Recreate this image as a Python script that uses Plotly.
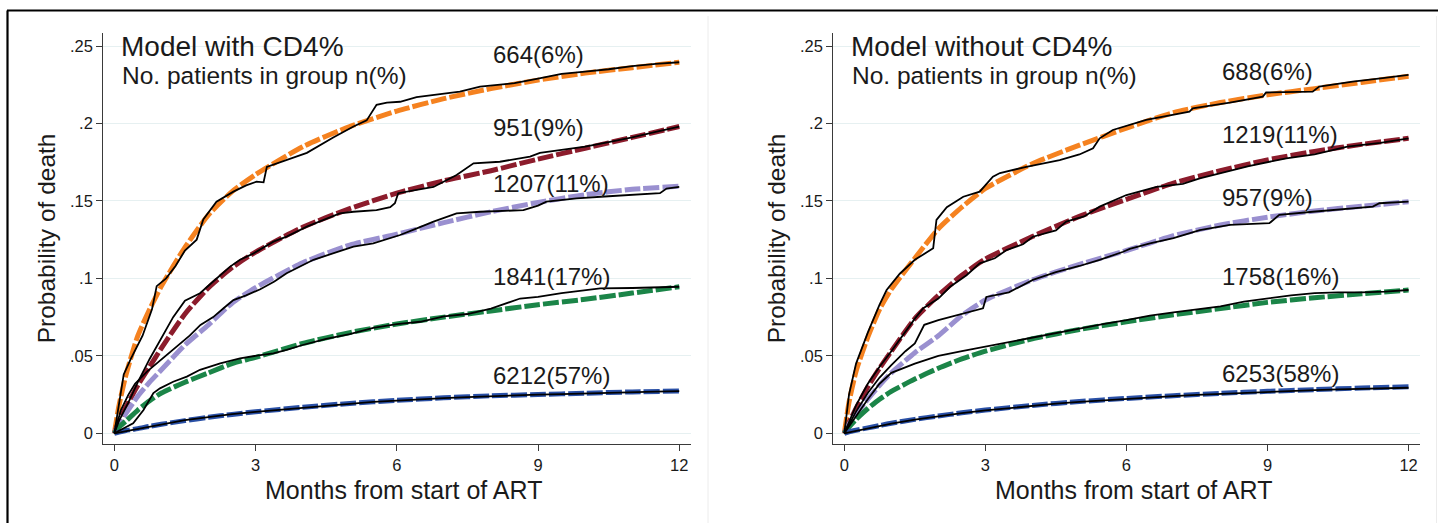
import plotly.graph_objects as go

# ---------------- data ----------------
t_pred = [0, 0.1, 0.25, 0.5, 0.75, 1, 1.5, 2, 2.5, 3, 4, 5, 6, 7, 8, 9, 10, 11, 12]

# Left panel: model with CD4%  (predicted curves)
L_orange_pred = [0, 0.018, 0.038, 0.063, 0.080, 0.095, 0.120, 0.141, 0.156, 0.167, 0.185, 0.198, 0.208, 0.216, 0.2225, 0.228, 0.2325, 0.236, 0.2395]
L_red_pred    = [0, 0.008, 0.017, 0.031, 0.043, 0.055, 0.077, 0.094, 0.107, 0.117, 0.133, 0.145, 0.155, 0.163, 0.1695, 0.177, 0.184, 0.191, 0.198]
L_lav_pred    = [0, 0.006, 0.013, 0.024, 0.033, 0.041, 0.057, 0.070, 0.084, 0.094, 0.110, 0.1215, 0.1285, 0.136, 0.143, 0.149, 0.154, 0.1575, 0.1595]
L_green_pred  = [0, 0.004, 0.008, 0.015, 0.021, 0.026, 0.033, 0.039, 0.045, 0.049, 0.058, 0.065, 0.0705, 0.075, 0.079, 0.083, 0.0865, 0.0905, 0.0946]
L_blue_pred   = [0, 0.0008, 0.0018, 0.003, 0.0045, 0.0058, 0.0082, 0.0103, 0.0122, 0.0139, 0.0168, 0.0193, 0.0213, 0.0229, 0.0242, 0.0250, 0.0259, 0.0267, 0.0273]

# Right panel: model without CD4%  (predicted curves)
R_orange_pred = [0, 0.020, 0.040, 0.062, 0.080, 0.093, 0.113, 0.132, 0.146, 0.158, 0.174, 0.186, 0.197, 0.207, 0.2135, 0.2185, 0.2225, 0.2265, 0.2305]
R_red_pred    = [0, 0.007, 0.016, 0.030, 0.042, 0.053, 0.074, 0.089, 0.102, 0.1125, 0.127, 0.140, 0.151, 0.1615, 0.1695, 0.1765, 0.182, 0.1865, 0.1904]
R_lav_pred    = [0, 0.006, 0.012, 0.022, 0.031, 0.039, 0.052, 0.063, 0.076, 0.086, 0.099, 0.109, 0.118, 0.1275, 0.1345, 0.1395, 0.1435, 0.1465, 0.1495]
R_green_pred  = [0, 0.004, 0.009, 0.016, 0.022, 0.027, 0.035, 0.042, 0.048, 0.053, 0.061, 0.067, 0.072, 0.0765, 0.0805, 0.0845, 0.0875, 0.090, 0.0925]
R_blue_pred   = [0, 0.001, 0.002, 0.0035, 0.005, 0.0065, 0.009, 0.0112, 0.0132, 0.015, 0.0180, 0.0205, 0.0225, 0.0243, 0.0258, 0.0271, 0.0282, 0.0292, 0.0300]

# Observed (Kaplan-Meier, black) curves: time and value pairs
L_orange_obs_t = [0, 0.08, 0.15, 0.2, 0.35, 0.45, 0.6, 0.8, 0.9, 1.1, 1.3, 1.5, 1.75, 1.89, 2.17, 2.53, 2.8, 3.02, 3.17, 3.24, 3.6, 4.09, 4.65, 5.08, 5.36, 5.57, 5.79, 6.07, 6.42, 7.34, 7.77, 8.5, 9.0, 9.5, 10, 10.5, 11, 11.5, 12]
L_orange_obs_v = [0, 0.015, 0.030, 0.038, 0.048, 0.054, 0.063, 0.080, 0.095, 0.100, 0.108, 0.118, 0.125, 0.138, 0.1495, 0.156, 0.160, 0.1624, 0.162, 0.172, 0.176, 0.181, 0.191, 0.198, 0.202, 0.212, 0.2135, 0.214, 0.217, 0.2205, 0.2238, 0.226, 0.229, 0.232, 0.2335, 0.235, 0.237, 0.2385, 0.2395]
L_red_obs_t = [0, 0.1, 0.3, 0.5, 0.75, 1, 1.25, 1.5, 1.82, 2.1, 2.46, 2.67, 2.95, 3.38, 3.66, 4.09, 4.65, 4.79, 5.08, 5.57, 5.86, 5.96, 6.03, 6.78, 7.27, 7.63, 8.19, 8.83, 9.04, 9.5, 10, 10.5, 11, 11.5, 12]
L_red_obs_v = [0, 0.008, 0.020, 0.033, 0.048, 0.062, 0.075, 0.0856, 0.0904, 0.098, 0.1076, 0.112, 0.116, 0.1237, 0.127, 0.1334, 0.140, 0.142, 0.143, 0.144, 0.146, 0.1485, 0.155, 0.159, 0.1667, 0.1743, 0.1753, 0.1786, 0.181, 0.183, 0.185, 0.188, 0.191, 0.1945, 0.198]
L_lav_obs_t = [0, 0.14, 0.3, 0.44, 0.7, 0.94, 1.1, 1.33, 1.6, 1.83, 2.1, 2.32, 2.53, 2.8, 3.1, 3.4, 3.66, 4.23, 4.65, 5.08, 5.5, 6.07, 6.4, 6.78, 7.27, 7.77, 8.69, 9.0, 9.18, 9.82, 10.5, 11.02, 11.59, 11.73, 12]
L_lav_obs_v = [0, 0.015, 0.025, 0.032, 0.040, 0.046, 0.050, 0.056, 0.063, 0.070, 0.075, 0.0807, 0.086, 0.089, 0.093, 0.098, 0.1033, 0.112, 0.116, 0.1205, 0.1226, 0.128, 0.132, 0.1366, 0.142, 0.143, 0.144, 0.147, 0.1495, 0.1517, 0.153, 0.1538, 0.155, 0.158, 0.159]
L_green_obs_t = [0, 0.2, 0.4, 0.62, 0.83, 0.97, 1.25, 1.54, 1.82, 2.25, 2.67, 3.1, 3.38, 3.66, 4.0, 4.5, 5.0, 5.5, 6.0, 6.5, 7.0, 7.5, 8.0, 8.62, 9.0, 9.5, 10.32, 11, 11.5, 12]
L_green_obs_v = [0, 0.003, 0.0065, 0.015, 0.026, 0.029, 0.0333, 0.0366, 0.041, 0.0452, 0.0484, 0.0505, 0.0516, 0.0538, 0.057, 0.061, 0.064, 0.068, 0.0705, 0.072, 0.0755, 0.077, 0.0805, 0.087, 0.088, 0.0905, 0.0936, 0.0938, 0.094, 0.0946]
L_blue_obs_t = [0, 0.5, 1, 1.5, 2, 2.5, 3, 3.5, 4, 4.5, 5, 5.5, 6, 6.5, 7, 7.5, 8, 8.5, 9, 9.5, 10, 10.5, 11, 11.5, 12]
L_blue_obs_v = [0, 0.0028, 0.0058, 0.0085, 0.0105, 0.0124, 0.0138, 0.0152, 0.0165, 0.0178, 0.019, 0.0203, 0.0212, 0.0218, 0.0227, 0.0234, 0.024, 0.0245, 0.025, 0.0253, 0.0258, 0.0262, 0.0266, 0.0269, 0.0272]

R_orange_obs_t = [0, 0.1, 0.25, 0.5, 0.75, 0.9, 1.18, 1.5, 1.89, 1.96, 2.18, 2.53, 2.88, 3.16, 3.31, 3.87, 4.58, 5.0, 5.29, 5.43, 5.71, 6.42, 7.34, 7.41, 8.2, 8.9, 8.97, 9.96, 10.1, 10.81, 11.45, 12]
R_orange_obs_v = [0, 0.025, 0.045, 0.065, 0.083, 0.0925, 0.103, 0.112, 0.1194, 0.1377, 0.146, 0.1527, 0.156, 0.1657, 0.168, 0.172, 0.1764, 0.180, 0.184, 0.1904, 0.1958, 0.2023, 0.2076, 0.2098, 0.2135, 0.2173, 0.220, 0.2205, 0.2238, 0.227, 0.2292, 0.2313]
R_red_obs_t = [0, 0.25, 0.5, 0.75, 1, 1.5, 1.68, 2, 2.25, 2.6, 2.88, 3.2, 3.45, 3.8, 4.01, 4.5, 4.72, 5.1, 5.43, 6.0, 6.64, 7.2, 7.56, 8.0, 8.6, 9.4, 10, 10.7, 11.4, 12]
R_red_obs_v = [0, 0.018, 0.032, 0.043, 0.053, 0.074, 0.0807, 0.087, 0.0946, 0.102, 0.1097, 0.113, 0.1183, 0.122, 0.1269, 0.131, 0.1366, 0.140, 0.1463, 0.1538, 0.159, 0.161, 0.1646, 0.168, 0.1725, 0.1775, 0.180, 0.185, 0.1875, 0.1904]
R_lav_obs_t = [0, 0.25, 0.5, 0.75, 1, 1.3, 1.5, 1.7, 2.0, 2.5, 2.95, 3.02, 3.5, 4.01, 4.5, 5.0, 5.43, 5.93, 6.07, 6.5, 7.0, 7.56, 8.2, 9.04, 9.25, 9.96, 10.5, 11.24, 11.38, 12]
R_lav_obs_v = [0, 0.014, 0.026, 0.036, 0.044, 0.053, 0.058, 0.070, 0.073, 0.077, 0.0807, 0.088, 0.091, 0.099, 0.104, 0.108, 0.1119, 0.1172, 0.119, 0.1226, 0.126, 0.1312, 0.1345, 0.1356, 0.141, 0.143, 0.1445, 0.1463, 0.1485, 0.1495]
R_green_obs_t = [0, 0.25, 0.5, 0.75, 1, 1.5, 2, 2.5, 3, 3.5, 4, 4.5, 5, 5.5, 6, 6.5, 7, 7.5, 8, 8.5, 9, 9.5, 10, 10.5, 11, 11.5, 12]
R_green_obs_v = [0, 0.011, 0.022, 0.032, 0.039, 0.045, 0.050, 0.053, 0.056, 0.059, 0.062, 0.065, 0.068, 0.0705, 0.073, 0.076, 0.078, 0.080, 0.082, 0.085, 0.087, 0.089, 0.0905, 0.091, 0.091, 0.0915, 0.0925]
R_blue_obs_t = [0, 0.5, 1, 1.5, 2, 2.5, 3, 3.5, 4, 4.5, 5, 5.5, 6, 6.5, 7, 7.5, 8, 8.5, 9, 9.5, 10, 10.5, 11, 11.5, 12]
R_blue_obs_v = [0, 0.0033, 0.0063, 0.0088, 0.011, 0.013, 0.0148, 0.0163, 0.0178, 0.0191, 0.0203, 0.0213, 0.0222, 0.0231, 0.024, 0.0248, 0.0255, 0.0262, 0.0268, 0.0274, 0.0279, 0.0284, 0.0288, 0.0291, 0.0294]

# Group labels
labels_L = ["664(6%)", "951(9%)", "1207(11%)", "1841(17%)", "6212(57%)"]
label_y_L = [0.2445, 0.1975, 0.161, 0.1015, 0.037]
labels_R = ["688(6%)", "1219(11%)", "957(9%)", "1758(16%)", "6253(58%)"]
label_y_R = [0.2334, 0.1926, 0.1519, 0.1011, 0.0389]
label_x = 8.0

x_ticks = [0, 3, 6, 9, 12]
y_ticks = [0, 0.05, 0.1, 0.15, 0.2, 0.25]
y_ticktext = ["0", ".05", ".1", ".15", ".2", ".25"]

titles = ["Model with CD4%", "Model without CD4%"]
subtitle = "No. patients in group n(%)"
x_title = "Months from start of ART"
y_title = "Probability of death"

# ---------------- styling ----------------
colors = ["#f58220", "#8c1c2c", "#9a90d0", "#1b8548", "#2a50a6"]
FONT = "Liberation Sans, Arial, sans-serif"
TXT = "#1a1a1a"
W, H = 1438, 523

fig = go.Figure()

panels = [
    ("x", "y", [L_orange_pred, L_red_pred, L_lav_pred, L_green_pred, L_blue_pred],
     [(L_orange_obs_t, L_orange_obs_v), (L_red_obs_t, L_red_obs_v), (L_lav_obs_t, L_lav_obs_v),
      (L_green_obs_t, L_green_obs_v), (L_blue_obs_t, L_blue_obs_v)], labels_L, label_y_L),
    ("x2", "y2", [R_orange_pred, R_red_pred, R_lav_pred, R_green_pred, R_blue_pred],
     [(R_orange_obs_t, R_orange_obs_v), (R_red_obs_t, R_red_obs_v), (R_lav_obs_t, R_lav_obs_v),
      (R_green_obs_t, R_green_obs_v), (R_blue_obs_t, R_blue_obs_v)], labels_R, label_y_R),
]

annotations = []
for pi, (xa, ya, preds, obs, labs, laby) in enumerate(panels):
    for c, p in zip(colors, preds):
        fig.add_trace(go.Scatter(x=t_pred, y=p, xaxis=xa, yaxis=ya, mode="lines",
                                 line=dict(color=c, width=5, dash="16px,3px", shape="spline", smoothing=0.6),
                                 showlegend=False, hoverinfo="skip"))
    for (tt, vv) in obs:
        fig.add_trace(go.Scatter(x=tt, y=vv, xaxis=xa, yaxis=ya, mode="lines",
                                 line=dict(color="black", width=1.8, shape="linear"),
                                 showlegend=False, hoverinfo="skip"))
    for txt, yy in zip(labs, laby):
        annotations.append(dict(x=label_x, y=yy, xref=xa, yref=ya, text=txt, showarrow=False,
                                xanchor="left", yanchor="middle",
                                font=dict(family=FONT, size=24, color=TXT)))

x_dom = [[103.3 / W, 690.7 / W], [833.3 / W, 1420 / W]]
y_dom = [1 - 444.3 / H, 1 - 33.3 / H]
title_x = [119 / W, 849 / W]
xtitle_cx = [403 / W, 1133 / W]

for i in range(2):
    annotations.append(dict(x=title_x[i], y=1 - 47 / H, xref="paper", yref="paper", text=titles[i],
                            showarrow=False, xanchor="left", yanchor="middle",
                            font=dict(family=FONT, size=28, color=TXT)))
    annotations.append(dict(x=title_x[i] + 1 / W, y=1 - 75 / H, xref="paper", yref="paper", text=subtitle,
                            showarrow=False, xanchor="left", yanchor="middle",
                            font=dict(family=FONT, size=24.5, color=TXT)))
    # axis titles
    annotations.append(dict(x=xtitle_cx[i], y=1 - 490 / H, xref="paper", yref="paper", text=x_title,
                            showarrow=False, xanchor="center", yanchor="middle", borderpad=0,
                            font=dict(family=FONT, size=25, color=TXT)))
    annotations.append(dict(x=(46.5 + 730 * i) / W, y=1 - 238.8 / H, xref="paper", yref="paper", text=y_title,
                            showarrow=False, xanchor="center", yanchor="middle", textangle=-90,
                            font=dict(family=FONT, size=24.5, color=TXT)))

axis_common = dict(showline=True, linecolor="#3a3a3a", linewidth=1.3, ticks="outside", ticklen=6,
                   tickcolor="#3a3a3a", tickwidth=1.3, zeroline=False, automargin=False,
                   tickfont=dict(family=FONT, size=16.5, color=TXT))

layout = dict(width=W, height=H, margin=dict(l=0, r=0, t=0, b=0),
              paper_bgcolor="white", plot_bgcolor="white", showlegend=False,
              annotations=annotations)

for i, (xk, yk) in enumerate([("xaxis", "yaxis"), ("xaxis2", "yaxis2")]):
    layout[xk] = dict(axis_common, domain=x_dom[i], range=[-0.234, 12.243], tickvals=x_ticks,
                      showgrid=False, anchor="y" if i == 0 else "y2")
    layout[yk] = dict(axis_common, domain=y_dom, range=[-0.0071, 0.2582], tickvals=y_ticks,
                      ticktext=y_ticktext, showgrid=True, gridcolor="#e6f0f1", gridwidth=1.3,
                      anchor="x" if i == 0 else "x2")

fig.update_layout(**layout)

# frame lines (outer border on top/left, faint panel separators)
fig.add_shape(type="line", xref="paper", yref="paper", x0=7 / W, x1=1, y0=1 - 10.5 / H, y1=1 - 10.5 / H,
              line=dict(color="black", width=2.2))
fig.add_shape(type="line", xref="paper", yref="paper", x0=7.5 / W, x1=7.5 / W, y0=0, y1=1 - 10.5 / H,
              line=dict(color="black", width=2.2))
for xs in [708 / W, 1436.5 / W]:
    fig.add_shape(type="line", xref="paper", yref="paper", x0=xs, x1=xs, y0=0, y1=1 - 16 / H,
                  line=dict(color="#ececec", width=1))

fig.write_html("out.html")
